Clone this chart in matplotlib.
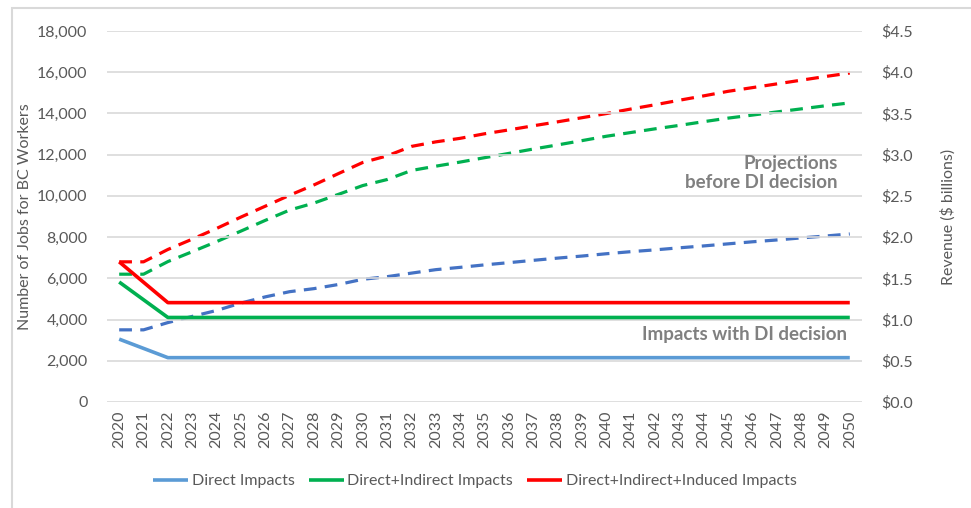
import matplotlib
matplotlib.use("Agg")
import matplotlib.pyplot as plt
from matplotlib.patches import Rectangle
from matplotlib.ticker import FuncFormatter

plt.rcParams['font.family'] = ['Lato', 'DejaVu Sans']

years = list(range(2020, 2051))

# jobs with DI decision (left axis)
direct = [3050, 2600] + [2150] * 29
direct_indirect = [5820, 4960] + [4100] * 29
direct_ind_induced = [6800, 5810] + [4820] * 29

# revenue projections before DI decision ($ billions, right axis)
proj_direct = [0.875, 0.875, 0.963, 1.038, 1.110, 1.200, 1.275, 1.338, 1.375, 1.425,
               1.488, 1.520, 1.563, 1.605, 1.633, 1.663, 1.690, 1.718, 1.745, 1.770,
               1.798, 1.823, 1.845, 1.870, 1.893, 1.918, 1.943, 1.965, 1.990, 2.013, 2.038]
proj_indirect = [1.550, 1.550, 1.703, 1.823, 1.945, 2.073, 2.203, 2.328, 2.413, 2.518,
                 2.625, 2.698, 2.808, 2.860, 2.910, 2.963, 3.015, 3.068, 3.118, 3.170,
                 3.223, 3.268, 3.313, 3.355, 3.400, 3.443, 3.480, 3.518, 3.555, 3.593, 3.628]
proj_induced = [1.700, 1.700, 1.850, 1.975, 2.105, 2.243, 2.375, 2.508, 2.633, 2.770,
                2.905, 2.985, 3.100, 3.155, 3.198, 3.253, 3.300, 3.350, 3.398, 3.448,
                3.498, 3.553, 3.605, 3.660, 3.713, 3.768, 3.813, 3.858, 3.903, 3.948, 3.990]

c_blue, c_blue_d = '#5B9BD5', '#4472C4'
c_green, c_red = '#00B050', '#FF0000'
grey = '#595959'

fig = plt.figure(figsize=(9.71, 5.08), dpi=100)
ax = fig.add_axes([0.1102, 0.2087, 0.7775, 0.7303])
ax2 = ax.twinx()

dash = (0, (4, 2.6))
ax2.plot(years, proj_direct, color=c_blue_d, lw=2.3, linestyle=dash)
ax2.plot(years, proj_indirect, color=c_green, lw=2.3, linestyle=dash)
ax2.plot(years, proj_induced, color=c_red, lw=2.3, linestyle=dash)

l1, = ax.plot(years, direct, color=c_blue, lw=2.6, solid_capstyle='butt')
l2, = ax.plot(years, direct_indirect, color=c_green, lw=2.6, solid_capstyle='butt')
l3, = ax.plot(years, direct_ind_induced, color=c_red, lw=2.6, solid_capstyle='butt')

ax.set_zorder(ax2.get_zorder() + 1)
ax.patch.set_visible(False)

ax.set_xlim(2019.5, 2050.5)
ax.set_ylim(0, 18000)
ax2.set_ylim(0, 4.5)
ax.set_yticks(range(0, 18001, 2000))
ax2.set_yticks([i * 0.5 for i in range(10)])
ax.yaxis.set_major_formatter(FuncFormatter(lambda v, p: f"{int(v):,}"))
ax2.yaxis.set_major_formatter(FuncFormatter(lambda v, p: f"${v:.1f}"))
ax.set_xticks(years)
ax.set_xticklabels([str(y) for y in years], rotation=90)

ax.grid(axis='y', color='#D9D9D9', lw=1.2)
ax.set_axisbelow(True)
for a in (ax, ax2):
    for s in a.spines.values():
        s.set_visible(False)
    a.tick_params(length=0, colors=grey, labelsize=11.5)
ax.tick_params(axis='y', pad=14)
ax2.tick_params(axis='y', pad=14)
ax.tick_params(axis='x', pad=6)

ax.set_ylabel("Number of Jobs for BC Workers", color=grey, fontsize=11.5, labelpad=4)
ax2.set_ylabel("Revenue ($ billions)", color=grey, fontsize=11.5, labelpad=20)

ax.text(2049.5, 11100, "Projections\nbefore DI decision", ha='right', va='center',
        fontsize=13.5, fontweight='bold', color='#808080', linespacing=1.15)
ax.text(2049.9, 3250, "Impacts with DI decision", ha='right', va='center',
        fontsize=13.5, fontweight='bold', color='#808080')

fig.legend([l1, l2, l3],
           ["Direct Impacts", "Direct+Indirect Impacts", "Direct+Indirect+Induced Impacts"],
           loc='center', bbox_to_anchor=(0.489, 0.053), ncol=3, frameon=False,
           fontsize=11.5, handlelength=2.2, handletextpad=0.2, columnspacing=0.9,
           labelcolor=grey)

fig.patches.append(Rectangle((12 / 971, -0.05), 1.0, 0.05 + 500 / 508,
                             transform=fig.transFigure, fill=False,
                             edgecolor='#D9D9D9', lw=1.5))

fig.savefig("out.png", dpi=100)
